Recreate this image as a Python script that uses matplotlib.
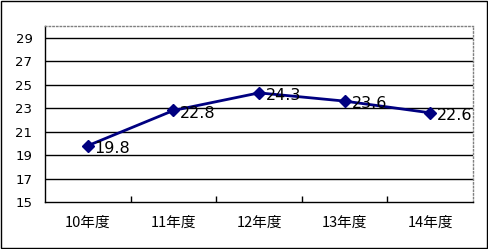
import numpy as np
import matplotlib
matplotlib.use("Agg")
import matplotlib.pyplot as plt
from matplotlib.patches import Rectangle

plt.rcParams['font.family'] = ['Noto Sans CJK JP', 'DejaVu Sans']

# data
years = ["10年度", "11年度", "12年度", "13年度", "14年度"]
values = [19.8, 22.8, 24.3, 23.6, 22.6]
yticks = [15, 17, 19, 21, 23, 25, 27, 29]

W, H = 488, 249
fig = plt.figure(figsize=(W / 100, H / 100), dpi=100)
ax = fig.add_axes([45 / W, (H - 202) / H, (473 - 45) / W, (202 - 26) / H])

x = np.arange(len(years))
ax.plot(x, values, color="#000080", lw=2, marker="D", ms=6.5, zorder=3)
for xi, v in zip(x, values):
    ax.annotate(f"{v}", (xi, v), xytext=(5, -2), textcoords="offset points",
                ha="left", va="center", fontsize=11.5, color="black",
                fontfamily="DejaVu Sans", zorder=4)

ax.set_xlim(-0.5, len(years) - 0.5)
ax.set_ylim(15, 30)
ax.set_yticks(yticks)
ax.set_yticklabels([str(t) for t in yticks], fontsize=9.5, fontfamily="DejaVu Sans")
for t in yticks[1:]:
    ax.axhline(t, color="black", lw=1, zorder=1)

ax.set_xticks(x)
ax.set_xticklabels(years, fontsize=10.5)
ax.set_xticks(np.arange(0.5, len(years) - 1, 1), minor=True)
ax.tick_params(axis="x", which="major", length=0, pad=10)
ax.tick_params(axis="x", which="minor", direction="in", length=4, width=1)
ax.tick_params(axis="y", length=0, pad=9)

for s in ["left", "bottom"]:
    ax.spines[s].set_color("black")
    ax.spines[s].set_linewidth(1)
for s in ["top", "right"]:
    ax.spines[s].set_color("gray")
    ax.spines[s].set_linestyle(":")
    ax.spines[s].set_linewidth(1)

fig.patches.append(Rectangle((0.5 / W, 1.5 / H), (W - 2) / W, (H - 2.5) / H,
                             transform=fig.transFigure, fill=False,
                             edgecolor="black", lw=1))

fig.savefig("out.png", dpi=100)
